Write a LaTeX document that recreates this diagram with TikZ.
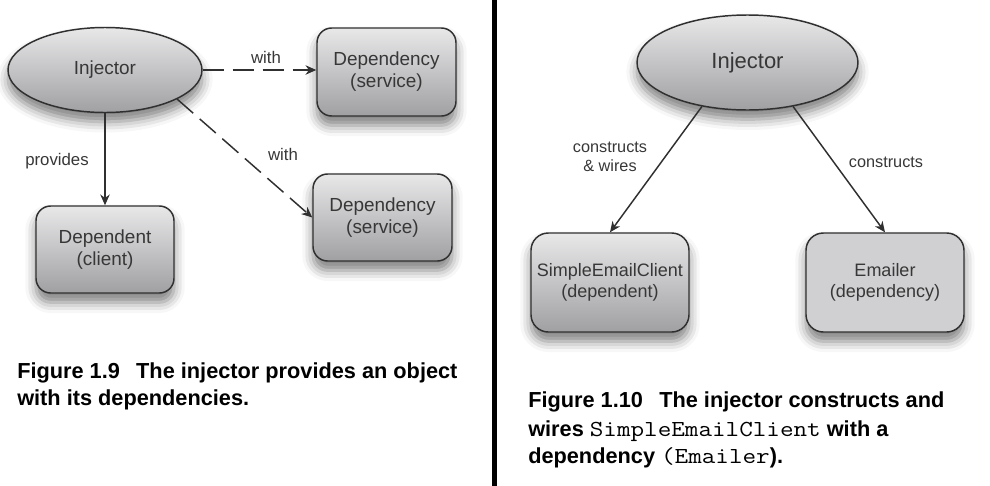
\documentclass[tikz,border=0pt]{standalone}
\usepackage{fontspec}
\setmainfont{Liberation Sans}
\usetikzlibrary{shapes.geometric,arrows.meta,shadows.blur}

\definecolor{inkgray}{RGB}{55,55,55}
\definecolor{linegray}{RGB}{48,48,48}
\definecolor{shadetop}{RGB}{232,232,233}
\definecolor{shadebot}{RGB}{160,160,163}
\definecolor{flatgray}{RGB}{208,208,210}

\newcommand{\codetxt}[1]{\scalebox{1.15}[1]{\ttfamily\mdseries\addfontfeatures{FakeBold=1.2}\fontsize{17.2pt}{20pt}\selectfont #1}}

\tikzset{
  blob/.style={draw=linegray, line width=1.1pt, top color=shadetop, bottom color=shadebot,
    blur shadow={shadow xshift=0pt, shadow yshift=-7pt, shadow blur radius=8pt, shadow opacity=50},
    text=inkgray, align=center, inner sep=0pt},
  injector/.style={blob, ellipse},
  card/.style={blob, rounded corners=11pt},
  wire/.style={draw=linegray, line width=1.1pt, -{Stealth[length=8pt,width=7pt,inset=2.5pt]}},
  dashwire/.style={wire, dash pattern=on 16pt off 6.5pt},
  tag/.style={text=inkgray, inner sep=0pt, align=center},
  caption/.style={anchor=base west, inner sep=0pt, font=\bfseries\fontsize{16.3pt}{20pt}\selectfont}
}

\begin{document}
\begin{tikzpicture}[x=0.75pt,y=0.75pt,yscale=-1,xscale=1]
\useasboundingbox (0,0) rectangle (990,486);

%Shape: Ellipse [id:injector left]
\node [injector, minimum width=145.5pt, minimum height=63.75pt, font=\fontsize{14.2pt}{17pt}\selectfont] (inj1) at (105,70) {Injector};
%Shape: Rounded Rect [id:service top]
\node [card, minimum width=104.25pt, minimum height=66pt, font=\fontsize{14.2pt}{16.5pt}\selectfont] (dep1) at (386.5,72) {Dependency\\(service)};
%Shape: Rounded Rect [id:service bottom]
\node [card, minimum width=104.25pt, minimum height=65.25pt, font=\fontsize{14.2pt}{16.5pt}\selectfont] (dep2) at (382.5,217.5) {Dependency\\(service)};
%Shape: Rounded Rect [id:client]
\node [card, minimum width=103.5pt, minimum height=65.25pt, font=\fontsize{14.2pt}{16.5pt}\selectfont] (dent) at (105,249.5) {Dependent\\(client)};

%Straight Lines [id:provides]
\draw [wire] (inj1.south) -- (dent.north) ;
%Straight Lines [id:with top]
\draw [dashwire] (inj1.east) -- (inj1.east -| dep1.west) ;
%Straight Lines [id:with bottom]
\draw [dashwire] (inj1.-22) -- (dep2.west) ;

% Text Node
\node [tag, font=\fontsize{12.6pt}{14.25pt}\selectfont] (with1) at (266,57) {with};
% Text Node
\node [tag, font=\fontsize{12.6pt}{14.25pt}\selectfont] (with2) at (283,154) {with};
% Text Node
\node [tag, font=\fontsize{12.6pt}{14.25pt}\selectfont] (prov) at (57,161) {provides};

%Straight Lines [id:divider]
\draw [line width=3.75pt] (494.5,0) -- (494.5,486) ;

%Shape: Ellipse [id:injector right]
\node [injector, minimum width=165.75pt, minimum height=71.25pt, font=\fontsize{16.5pt}{19pt}\selectfont] (inj2) at (747.5,62.5) {Injector};
%Shape: Rounded Rect [id:simple client]
\node [card, rounded corners=13pt, minimum width=118.5pt, minimum height=74.25pt, font=\fontsize{13.5pt}{15.75pt}\selectfont] (sec) at (610,282.5) {SimpleEmailClient\\(dependent)};
%Shape: Rounded Rect [id:emailer]
\node [card, rounded corners=13pt, top color=flatgray, bottom color=flatgray, minimum width=118.5pt, minimum height=74.25pt, font=\fontsize{13.5pt}{15.75pt}\selectfont] (mailer) at (885,282.5) {Emailer\\(dependency)};

%Straight Lines [id:constructs and wires]
\draw [wire] (inj2.-136) -- (sec.north) ;
%Straight Lines [id:constructs]
\draw [wire] (inj2.-44) -- (mailer.north) ;

% Text Node
\node [tag, font=\fontsize{12.2pt}{14.25pt}\selectfont] (wires) at (610,157) {constructs\\\& wires};
% Text Node
\node [tag, font=\fontsize{12.2pt}{14.25pt}\selectfont] (cons) at (886,162) {constructs};

% Text Node
\node [caption] (capA) at (17,378) {Figure 1.9\hspace{0.75em}The injector provides an object};
\node [caption] (capB) at (17,405) {with its dependencies.};
% Text Node
\node [caption] (capC) at (528,407) {Figure 1.10\hspace{0.75em}The injector constructs and};
\node [caption] (capD) at (528,436) {wires \codetxt{SimpleEmailClient} with a};
\node [caption] (capE) at (528,463) {dependency \codetxt{(Emailer}).};

\end{tikzpicture}
\end{document}
